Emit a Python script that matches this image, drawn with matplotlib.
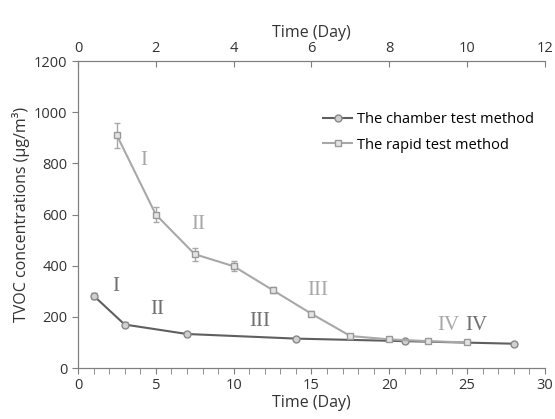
import numpy as np
import matplotlib.pyplot as plt
from matplotlib.ticker import MultipleLocator
from matplotlib.lines import Line2D

# chamber test, bottom axis (day 0-30)
chamber_day = [1, 3, 7, 14, 21, 28]
chamber_val = [283, 170, 133, 115, 105, 95]
chamber_err = [12, 8, 6, 6, 6, 6]

# rapid test, top axis (day 0-12)
rapid_day = [1, 2, 3, 4, 5, 6, 7, 8, 9, 10]
rapid_val = [910, 600, 445, 398, 305, 212, 125, 112, 105, 100]
rapid_err = [50, 30, 25, 20, 10, 10, 8, 8, 6, 6]

dark = '#5f5f5f'
light = '#a8a8a8'

plt.rcParams['font.family'] = ['Open Sans', 'DejaVu Sans']

fig = plt.figure(figsize=(5.55, 4.19), dpi=100)
ax = fig.add_axes([0.1405, 0.1217, 0.8415, 0.7323])
ax2 = ax.twiny()

ax.errorbar(chamber_day, chamber_val, yerr=chamber_err, color=dark, marker='o',
            markersize=5, markerfacecolor='#d0d0d0', markeredgecolor='#888888',
            lw=1.5, capsize=2.5, elinewidth=1, ecolor='#888888')
ax2.errorbar(rapid_day, rapid_val, yerr=rapid_err, color=light, marker='s',
             markersize=5, markerfacecolor='#e4e4e4', markeredgecolor='#999999',
             lw=1.5, capsize=2.5, elinewidth=1)

ax.set_xlim(0, 30)
ax2.set_xlim(0, 12)
ax.set_ylim(0, 1200)

ax.xaxis.set_major_locator(MultipleLocator(5))
ax.xaxis.set_minor_locator(MultipleLocator(1))
ax.yaxis.set_major_locator(MultipleLocator(200))
ax2.xaxis.set_major_locator(MultipleLocator(2))

for a in (ax, ax2):
    a.spines['right'].set_visible(False)
    for s in a.spines.values():
        s.set_color('#7f7f7f')
ax.tick_params(axis='x', which='both', direction='out', length=4, color='#7f7f7f', labelsize=10.5, labelcolor='#333333')
ax.tick_params(axis='y', direction='out', length=4, color='#7f7f7f', labelsize=10.5, labelcolor='#333333')
ax2.tick_params(axis='x', direction='in', length=4, color='#7f7f7f', labelsize=10.5, labelcolor='#333333')

ax.set_xlabel('Time (Day)', fontsize=11.5, color='#333333', labelpad=1)
ax2.set_xlabel('Time (Day)', fontsize=11.5, color='#333333', labelpad=3)
ax.set_ylabel('TVOC concentrations (μg/m³)', fontsize=11.5, color='#333333', labelpad=3)

roman = ['I', 'II', 'III', 'IV']
rfont = ['Liberation Serif', 'DejaVu Serif']
dark_pos = [(2.4, 317), (5.1, 227), (11.7, 180), (25.6, 168)]
light_pos = [(4.2, 813), (7.7, 560), (15.4, 305), (23.8, 168)]
for r, (x, y) in zip(roman, dark_pos):
    ax.text(x, y, r, color='#707070', fontsize=15, ha='center', va='center', family=rfont)
for r, (x, y) in zip(roman, light_pos):
    ax.text(x, y, r, color='#a8a8a8', fontsize=15, ha='center', va='center', family=rfont)

h1 = Line2D([], [], color=dark, marker='o', markersize=5, markerfacecolor='#d0d0d0',
            markeredgecolor='#888888', lw=1.5)
h2 = Line2D([], [], color=light, marker='s', markersize=5, markerfacecolor='#e4e4e4',
            markeredgecolor='#999999', lw=1.5)
ax.legend([h1, h2], ['The chamber test method', 'The rapid test method'],
          loc='upper left', bbox_to_anchor=(0.509, 0.857), frameon=False,
          fontsize=10.5, handlelength=2, handletextpad=0.3, labelspacing=0.7,
          borderpad=0)

fig.savefig('out.png', dpi=100)
